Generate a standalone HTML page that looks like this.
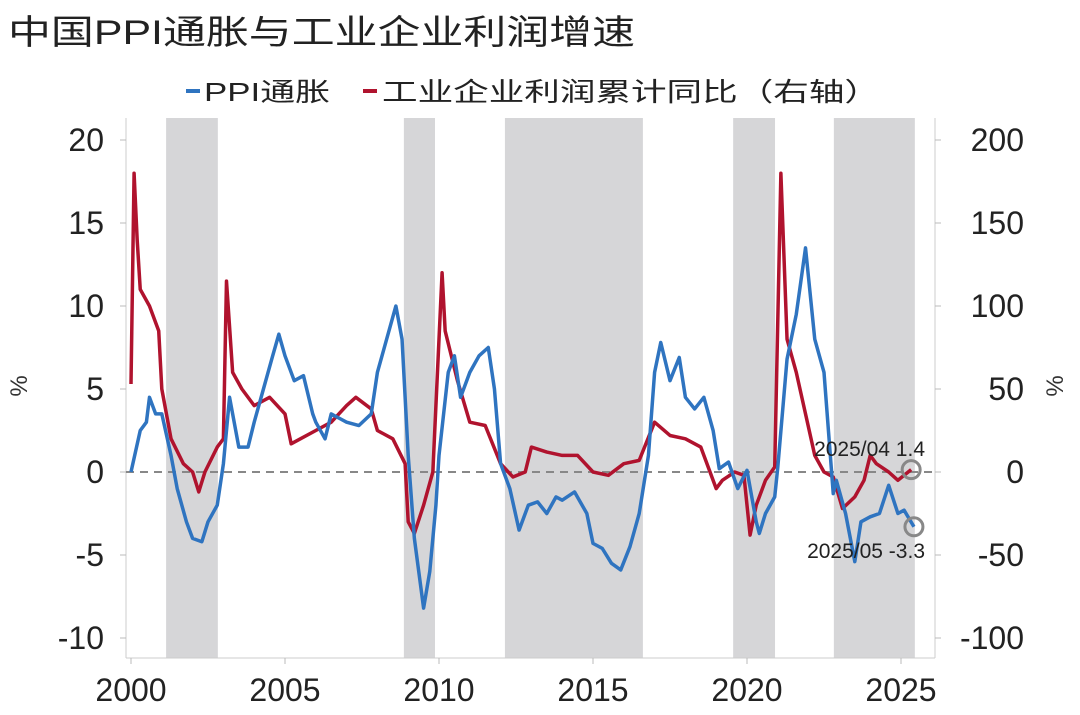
<!DOCTYPE html>
<html><head><meta charset="utf-8"><style>
body{margin:0;background:#fff;}
svg text{font-family:"Liberation Sans","Noto Sans CJK SC",sans-serif;}
</style></head><body>
<svg id="chart" width="1080" height="710" viewBox="0 0 1080 710" xmlns="http://www.w3.org/2000/svg">
<text x="8" y="44" font-size="34" fill="#222" textLength="627" lengthAdjust="spacingAndGlyphs">中国PPI通胀与工业企业利润增速</text>
<g>
<line x1="186" y1="91" x2="200" y2="91" stroke="#2f74c0" stroke-width="4"/>
<text x="204" y="101" font-size="26" fill="#222" textLength="126" lengthAdjust="spacingAndGlyphs">PPI通胀</text>
<line x1="363" y1="91" x2="377" y2="91" stroke="#b0132e" stroke-width="4"/>
<text x="382" y="101" font-size="26" fill="#222" textLength="498" lengthAdjust="spacingAndGlyphs">工业企业利润累计同比（右轴）</text>
</g>
<g id="bands"></g>
<g id="axes"></g>
<g id="series"></g>
<g id="notes"></g>
</svg>
<script>
const NS="http://www.w3.org/2000/svg";
const shadeStart=[2001.14,2008.86,2012.14,2019.55,2022.82];
const shadeEnd=[2002.82,2009.87,2016.62,2020.91,2025.45];
const leftTicks=[20,15,10,5,0,-5,-10];
const rightTicks=[200,150,100,50,0,-50,-100];
const xTicks=[2000,2005,2010,2015,2020,2025];
const ppiT=[2000.0,2000.3,2000.5,2000.6,2000.8,2001.0,2001.3,2001.5,2001.8,2002.0,2002.3,2002.5,2002.8,2003.0,2003.2,2003.5,2003.8,2004.0,2004.3,2004.6,2004.8,2005.0,2005.3,2005.6,2005.9,2006.0,2006.3,2006.5,2006.8,2007.0,2007.4,2007.8,2008.0,2008.3,2008.6,2008.8,2009.0,2009.2,2009.5,2009.7,2009.9,2010.0,2010.3,2010.5,2010.7,2011.0,2011.3,2011.6,2011.8,2012.0,2012.3,2012.6,2012.9,2013.2,2013.5,2013.8,2014.0,2014.4,2014.8,2015.0,2015.3,2015.6,2015.9,2016.2,2016.5,2016.8,2017.0,2017.2,2017.5,2017.8,2018.0,2018.3,2018.6,2018.9,2019.1,2019.4,2019.7,2020.0,2020.3,2020.4,2020.6,2020.9,2021.0,2021.3,2021.6,2021.9,2022.2,2022.5,2022.8,2022.9,2023.2,2023.5,2023.7,2024.0,2024.3,2024.6,2024.9,2025.1,2025.42];
const ppiV=[0,2.5,3,4.5,3.5,3.5,1,-1,-3,-4,-4.2,-3,-2,0.5,4.5,1.5,1.5,3,5,7,8.3,7,5.5,5.8,3.5,3,2,3.5,3.2,3,2.8,3.5,6,8,10,8,1,-4,-8.2,-6,-2,1,6,7,4.5,6,7,7.5,5,0.5,-1,-3.5,-2,-1.8,-2.5,-1.5,-1.7,-1.2,-2.5,-4.3,-4.6,-5.5,-5.9,-4.5,-2.5,1,6,7.8,5.5,6.9,4.5,3.8,4.5,2.5,0.2,0.6,-1,0.1,-3,-3.7,-2.5,-1.5,0.3,6.8,9.5,13.5,8,6,-1.3,-0.5,-2.5,-5.4,-3,-2.7,-2.5,-0.8,-2.5,-2.3,-3.3];
const profT=[2000.0,2000.1,2000.2,2000.3,2000.6,2000.9,2001.0,2001.3,2001.7,2002.0,2002.2,2002.4,2002.8,2003.0,2003.1,2003.3,2003.6,2004.0,2004.5,2005.0,2005.2,2005.5,2006.0,2006.5,2007.0,2007.3,2007.8,2008.0,2008.5,2008.9,2009.0,2009.2,2009.5,2009.8,2010.0,2010.1,2010.2,2010.6,2011.0,2011.5,2012.0,2012.4,2012.8,2013.0,2013.5,2014.0,2014.5,2015.0,2015.5,2016.0,2016.5,2017.0,2017.5,2018.0,2018.5,2019.0,2019.2,2019.6,2019.9,2020.1,2020.3,2020.6,2020.9,2021.1,2021.3,2021.6,2021.9,2022.2,2022.5,2022.8,2023.1,2023.5,2023.8,2024.0,2024.2,2024.6,2024.9,2025.33];
const profV=[53,180,140,110,100,85,50,20,5,0,-12,0,15,20,115,60,50,40,45,35,17,20,25,30,40,45,38,25,20,5,-30,-37,-20,0,80,120,85,55,30,28,5,-3,0,15,12,10,10,0,-2,5,7,30,22,20,15,-10,-5,0,-2,-38,-20,-5,3,180,80,60,35,10,0,-3,-22,-15,-5,10,5,0,-5,1.4];
const X=t=>131+(t-2000)*30.8;
const YL=v=>472-v*16.6;
const YR=v=>472-v*1.66;
const L=126,R=935,T=118,B=658;
function mk(tag,attrs,parent){const e=document.createElementNS(NS,tag);for(const k in attrs)e.setAttribute(k,attrs[k]);document.getElementById(parent).appendChild(e);return e;}
shadeStart.forEach((s,i)=>{const r=mk('rect',{x:X(s),y:T,width:X(shadeEnd[i])-X(s),height:B-T,fill:'#d6d6d8'},'bands');

});
let a=mk('line',{x1:L,y1:T,x2:L,y2:B,stroke:'#ccc','stroke-width':1},'axes');


a=mk('line',{x1:R,y1:T,x2:R,y2:B,stroke:'#ccc','stroke-width':1},'axes');


a=mk('line',{x1:L,y1:B,x2:R,y2:B,stroke:'#ccc','stroke-width':1},'axes');


leftTicks.forEach(v=>{const t=mk('text',{x:104,y:YL(v)+11,'font-size':32,'text-anchor':'end',fill:'#222'},'axes');t.textContent=v;


mk('line',{x1:L-6,y1:YL(v),x2:L,y2:YL(v),stroke:'#bbb'},'axes');});
rightTicks.forEach(v=>{const t=mk('text',{x:1024,y:YR(v)+11,'font-size':32,'text-anchor':'end',fill:'#222'},'axes');t.textContent=v;


mk('line',{x1:R,y1:YR(v),x2:R+6,y2:YR(v),stroke:'#bbb'},'axes');});
xTicks.forEach(v=>{const t=mk('text',{x:X(v),y:701,'font-size':32,'text-anchor':'middle',fill:'#222'},'axes');t.textContent=v;


mk('line',{x1:X(v),y1:B,x2:X(v),y2:B+6,stroke:'#bbb'},'axes');});
let u=mk('text',{x:0,y:0,'font-size':24,fill:'#333',transform:'translate(27,386) rotate(-90)','text-anchor':'middle'},'axes');u.textContent='%';


u=mk('text',{x:0,y:0,'font-size':24,fill:'#333',transform:'translate(1063,386) rotate(-90)','text-anchor':'middle'},'axes');u.textContent='%';


let z=mk('line',{x1:L,y1:YL(0),x2:R,y2:YL(0),stroke:'#888','stroke-width':2,'stroke-dasharray':'8,6'},'axes');


let p=mk('polyline',{points:profT.map((t,i)=>X(t)+','+YR(profV[i])).join(' '),fill:'none',stroke:'#b0132e','stroke-width':3.5,'stroke-linejoin':'round'},'series');


p=mk('polyline',{points:ppiT.map((t,i)=>X(t)+','+YL(ppiV[i])).join(' '),fill:'none',stroke:'#2f74c0','stroke-width':3.5,'stroke-linejoin':'round'},'series');


const lp=profT.length-1, lq=ppiT.length-1;
let c=mk('circle',{cx:X(profT[lp]),cy:YR(profV[lp]),r:9,fill:'none',stroke:'#888','stroke-width':3},'notes');


c=mk('circle',{cx:X(ppiT[lq]),cy:YL(ppiV[lq]),r:9,fill:'none',stroke:'#888','stroke-width':3},'notes');


let n=mk('text',{x:925,y:456,'font-size':21,'text-anchor':'end',fill:'#222','font-family':'Liberation Mono, monospace'},'notes');n.textContent='2025/04 1.4';


n=mk('text',{x:925,y:558,'font-size':21,'text-anchor':'end',fill:'#222','font-family':'Liberation Mono, monospace'},'notes');n.textContent='2025/05 -3.3';


</script>
</body></html>
